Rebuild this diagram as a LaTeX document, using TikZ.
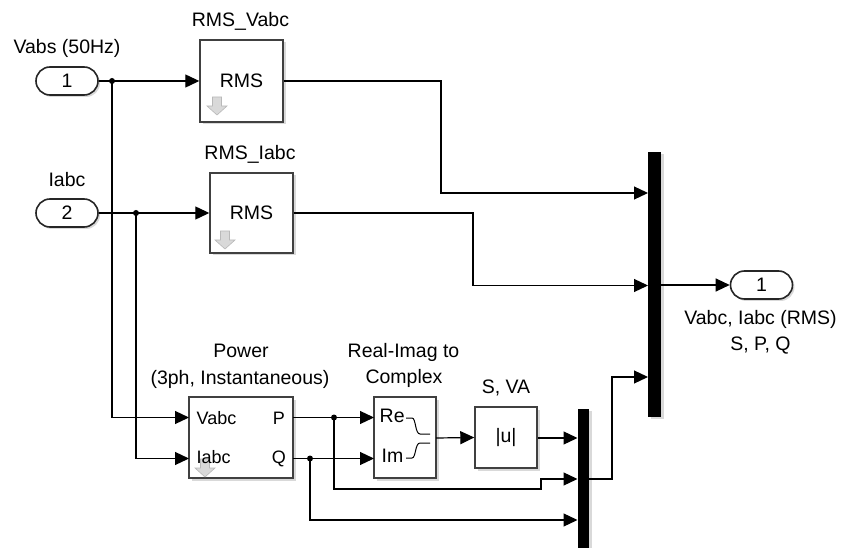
\documentclass[tikz,border=0pt]{standalone}
\usepackage{fontspec}
\setmainfont{Liberation Sans}
\usetikzlibrary{arrows.meta,shadows}
\newcommand\myfont{\fontsize{19.5}{22}\selectfont}
\newcommand\portfont{\fontsize{18}{21}\selectfont}
\newcommand\dicon[2]{%
  \fill[gray!30, draw=gray!55, line width=0.6pt] (#1-4.5,#2) -- (#1+4.5,#2) -- (#1+4.5,#2+9) -- (#1+10,#2+9) -- (#1,#2+18) -- (#1-10,#2+9) -- (#1-4.5,#2+9) -- cycle;}
\tikzset{
  conn/.style={line width=1.2pt, -{Triangle[length=14pt,width=13pt]}},
  wire/.style={line width=1.2pt},
  blk/.style={draw=black!75, line width=1.4pt, fill=white, inner sep=0pt, font=\myfont,
    drop shadow={shadow xshift=2.5pt, shadow yshift=-2.5pt, opacity=0.3}},
  muxbar/.style={fill=black, draw=none, inner sep=0pt,
    drop shadow={shadow xshift=2.5pt, shadow yshift=-2pt, opacity=0.3}},
  pill/.style={draw=black!85, line width=1.6pt, rounded corners=14pt, minimum width=62pt,
    minimum height=28pt, fill=white, inner sep=0pt, font=\myfont,
    drop shadow={shadow xshift=2pt, shadow yshift=-2pt, opacity=0.3}},
  lbl/.style={font=\myfont, inner sep=0pt, anchor=base},
  plbl/.style={font=\portfont, inner sep=0pt, anchor=base},
  dot/.style={circle, fill=black, inner sep=0pt, minimum size=6pt},
}
\begin{document}
\begin{tikzpicture}[x=1pt,y=-1pt]
\useasboundingbox (0,0) rectangle (844,548);

% ports
\node[pill] (in1) at (67,81) {1};
\node[lbl] (in1lbl) at (67,53.5) {Vabs (50Hz)};
\node[pill] (in2) at (67,213) {2};
\node[lbl] (in2lbl) at (67,187) {Iabc};
\node[pill] (out1) at (761.5,285) {1};
\node[lbl] (out1lbla) at (760.5,324) {Vabc, Iabc (RMS)};
\node[lbl] (out1lblb) at (760.5,350) {S, P, Q};

% RMS blocks
\node[blk, minimum width=83pt, minimum height=82pt] (rmsv) at (241.5,81) {RMS};
\node[lbl] (rmsvlbl) at (240.5,27) {RMS\_Vabc};
\dicon{217}{97}
\node[blk, minimum width=83pt, minimum height=80pt] (rmsi) at (251.5,213) {RMS};
\node[lbl] (rmsilbl) at (250,159.5) {RMS\_Iabc};
\dicon{225}{231}

% Power block
\node[blk, minimum width=104pt, minimum height=81pt] (pwr) at (241,437.5) {};
\node[lbl] (pwrlbla) at (241,357) {Power};
\node[lbl] (pwrlblb) at (240,384.5) {(3ph, Instantaneous)};
\dicon{205}{459}
\node[plbl, anchor=base west] (pwrV) at (196.5,424) {Vabc};
\node[plbl, anchor=base west] (pwrI) at (196.5,463.5) {Iabc};
\node[plbl, anchor=base east] (pwrP) at (285,424) {P};
\node[plbl, anchor=base east] (pwrQ) at (286,463.5) {Q};

% Real-Imag to Complex
\node[blk, minimum width=62pt, minimum height=81pt] (ri) at (405,437.5) {};
\node[lbl] (rilbla) at (403.5,357) {Real-Imag to};
\node[lbl] (rilblb) at (404,383) {Complex};
\node[lbl, anchor=base west] (riRe) at (379.5,422.5) {Re};
\node[lbl, anchor=base west] (riIm) at (381.5,462.5) {Im};
\draw[line width=1pt] (406,418) -- (412,418) .. controls (416,418) and (415,434) .. (420,434) -- (430,434);
\draw[line width=1pt] (406,458) -- (412,458) .. controls (416,458) and (415,443) .. (420,443) -- (430,443);

% |u|
\node[blk, minimum width=62pt, minimum height=61pt] (absu) at (506,437.5) {|u|};
\node[lbl] (absulbl) at (506,393) {S, VA};

% Muxes
\node[muxbar, minimum width=13pt, minimum height=265pt] (mux1) at (654.5,284.5) {};
\node[muxbar, minimum width=11.5pt, minimum height=141pt] (mux2) at (583.5,479.5) {};

% coordinates for ports
\coordinate (pV) at (189,417.5);
\coordinate (pI) at (189,458.5);
\coordinate (pPo) at (293,417.5);
\coordinate (pQo) at (293,458.5);
\coordinate (rRe) at (374,417.5);
\coordinate (rIm) at (374,458.5);
\coordinate (rOut) at (436,438);
\coordinate (m1a) at (648,193);
\coordinate (m1b) at (648,285.5);
\coordinate (m1c) at (648,377);
\coordinate (m1o) at (661,285);
\coordinate (m2a) at (577.5,438);
\coordinate (m2b) at (577.5,479);
\coordinate (m2c) at (577.5,520);
\coordinate (m2o) at (589,479);

% junctions
\node[dot] (j1) at (112,81) {};
\node[dot] (j2) at (136,213) {};
\node[dot] (jp) at (334,417.5) {};
\node[dot] (jq) at (310,458.5) {};

% connectors
\draw[conn] (in1.east) -- (rmsv.west);
\draw[conn] (in2.east) -- (rmsi.west);
\draw[conn] (j1.center) |- (pV);
\draw[conn] (j2.center) |- (pI);
\draw[conn] (rmsv.east) -| (441,193) -- (m1a);
\draw[conn] (rmsi.east) -| (473,285.5) -- (m1b);
\draw[conn] (m2o) -| (612,377) -- (m1c);
\draw[conn] (m1o) -- (out1.west);
\draw[conn] (pPo) -- (rRe);
\draw[conn] (pQo) -- (rIm);
\draw[conn] (rOut) -- (absu.west);
\draw[conn] (absu.east |- m2a) -- (m2a);
\draw[conn] (jp.center) |- (541,489) |- (m2b);
\draw[conn] (jq.center) |- (m2c);
\end{tikzpicture}
\end{document}
